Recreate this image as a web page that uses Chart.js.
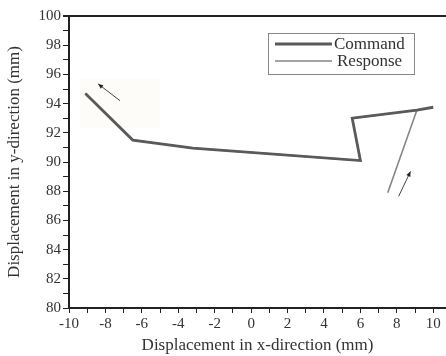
<!DOCTYPE html>
<html><head><meta charset="utf-8">
<script src="https://cdn.jsdelivr.net/npm/chart.js@4/dist/chart.umd.min.js"></script>
<style>html,body{margin:0;padding:0;background:#fff}#wrap{width:446px;height:356px}</style>
</head><body><div id="wrap"><canvas id="c" width="446" height="356"></canvas></div>
<script>
const seriesNames = ["Command", "Response"];
const commandX = [10.0, 9.1, 5.55, 6.0, -3.2, -6.5, -9.1];
const commandY = [93.75, 93.55, 93.0, 90.1, 90.95, 91.5, 94.7];
const responseX = [7.5, 9.1, 5.55, 6.0, -3.2, -6.5, -9.1];
const responseY = [87.9, 93.55, 93.0, 90.1, 90.95, 91.5, 94.7];
const xTicks = [-10, -8, -6, -4, -2, 0, 2, 4, 6, 8, 10];
const yTicks = [80, 82, 84, 86, 88, 90, 92, 94, 96, 98, 100];
const arrows = [
  {from: [-7.2, 94.2], to: [-8.4, 95.35]},
  {from: [8.1, 87.65], to: [8.75, 89.35]}
];
const xTitle = "Displacement in x-direction (mm)";
const yTitle = "Displacement in y-direction (mm)";

const FONT = "'Liberation Serif', 'DejaVu Serif', serif";
const toPts = (xs, ys) => xs.map((x, i) => ({x, y: ys[i]}));

const decor = {
  id: 'decor',
  beforeDatasetsDraw(chart) {
    const {ctx, scales: {x, y}} = chart;
    ctx.save();
    ctx.fillStyle = 'rgba(250,235,210,0.14)';
    const x0 = x.getPixelForValue(-9.4), x1 = x.getPixelForValue(-5.0);
    const y0 = y.getPixelForValue(95.7), y1 = y.getPixelForValue(92.3);
    ctx.fillRect(x0, y0, x1 - x0, y1 - y0);
    ctx.restore();
  },
  afterDraw(chart) {
    const {ctx, chartArea: a, scales: {x, y}} = chart;
    ctx.save();
    // top border
    ctx.strokeStyle = '#222'; ctx.lineWidth = 2;
    ctx.beginPath(); ctx.moveTo(a.left - 6, a.top); ctx.lineTo(a.right, a.top); ctx.stroke();
    // arrows
    ctx.strokeStyle = '#444'; ctx.fillStyle = '#222'; ctx.lineWidth = 1;
    arrows.forEach(ar => {
      const x0 = x.getPixelForValue(ar.from[0]), y0 = y.getPixelForValue(ar.from[1]);
      const x1 = x.getPixelForValue(ar.to[0]), y1 = y.getPixelForValue(ar.to[1]);
      ctx.beginPath(); ctx.moveTo(x0, y0); ctx.lineTo(x1, y1); ctx.stroke();
      const ang = Math.atan2(y1 - y0, x1 - x0), L = 5, W = 2.2;
      ctx.beginPath();
      ctx.moveTo(x1, y1);
      ctx.lineTo(x1 - L*Math.cos(ang) + W*Math.sin(ang), y1 - L*Math.sin(ang) - W*Math.cos(ang));
      ctx.lineTo(x1 - L*Math.cos(ang) - W*Math.sin(ang), y1 - L*Math.sin(ang) + W*Math.cos(ang));
      ctx.closePath(); ctx.fill();
    });
    // legend box
    const bx = 268, by = 33, bw = 146, bh = 41;
    ctx.strokeStyle = '#888'; ctx.lineWidth = 1;
    ctx.strokeRect(bx + 0.5, by + 0.5, bw, bh);
    ctx.font = "17px " + FONT; ctx.fillStyle = '#333'; ctx.textBaseline = 'middle'; ctx.textAlign = 'left';
    chart.data.datasets.forEach((ds, i) => {
      const ly = by + 11 + i * 17;
      ctx.strokeStyle = ds.borderColor; ctx.lineWidth = ds.borderWidth;
      ctx.beginPath(); ctx.moveTo(bx + 7, ly); ctx.lineTo(bx + 64, ly); ctx.stroke();
      ctx.fillText(ds.label, bx + (i === 0 ? 66 : 69), ly + 1);
    });
    ctx.restore();
  }
};

new Chart(document.getElementById('c'), {
  type: 'scatter',
  data: {
    datasets: [
      {label: seriesNames[0], data: toPts(commandX, commandY), showLine: true, borderColor: '#5a5a5a', borderWidth: 2.8, pointRadius: 0, fill: false, tension: 0},
      {label: seriesNames[1], data: toPts(responseX, responseY), showLine: true, borderColor: '#858585', borderWidth: 1.6, pointRadius: 0, fill: false, tension: 0}
    ]
  },
  options: {
    responsive: false, animation: false, devicePixelRatio: 1,
    layout: {padding: {top: 16, right: 0, left: 0, bottom: 0}},
    plugins: {legend: {display: false}, tooltip: {enabled: false}},
    scales: {
      x: {
        type: 'linear', min: -10, max: 10.7,
        afterBuildTicks: s => { s.ticks = []; for (let v = -10; v <= 10; v++) s.ticks.push({value: v}); },
        afterFit: s => { s.height = 48; },
        ticks: {color: '#333', font: {family: FONT, size: 15}, padding: 2, maxRotation: 0, autoSkip: false,
          callback: v => xTicks.includes(v) ? String(v) : ''},
        grid: {drawOnChartArea: false, drawTicks: true, tickLength: 5, color: '#222', tickColor: '#222'},
        border: {color: '#222', width: 2},
        title: {display: true, text: xTitle, color: '#333', font: {family: FONT, size: 17}, padding: {top: 0, bottom: 0}}
      },
      y: {
        type: 'linear', min: 80, max: 100,
        afterBuildTicks: s => { s.ticks = []; for (let v = 80; v <= 100; v++) s.ticks.push({value: v}); },
        afterFit: s => { s.width = 69; },
        ticks: {color: '#333', font: {family: FONT, size: 15}, padding: 2, autoSkip: false,
          callback: v => yTicks.includes(v) ? String(v) : ''},
        grid: {drawOnChartArea: false, drawTicks: true, tickLength: 6, color: '#222', tickColor: '#222'},
        border: {color: '#222', width: 2},
        title: {display: true, text: yTitle, color: '#333', font: {family: FONT, size: 17}, padding: {top: 4, bottom: 0}}
      }
    }
  },
  plugins: [decor]
});
</script></body></html>
